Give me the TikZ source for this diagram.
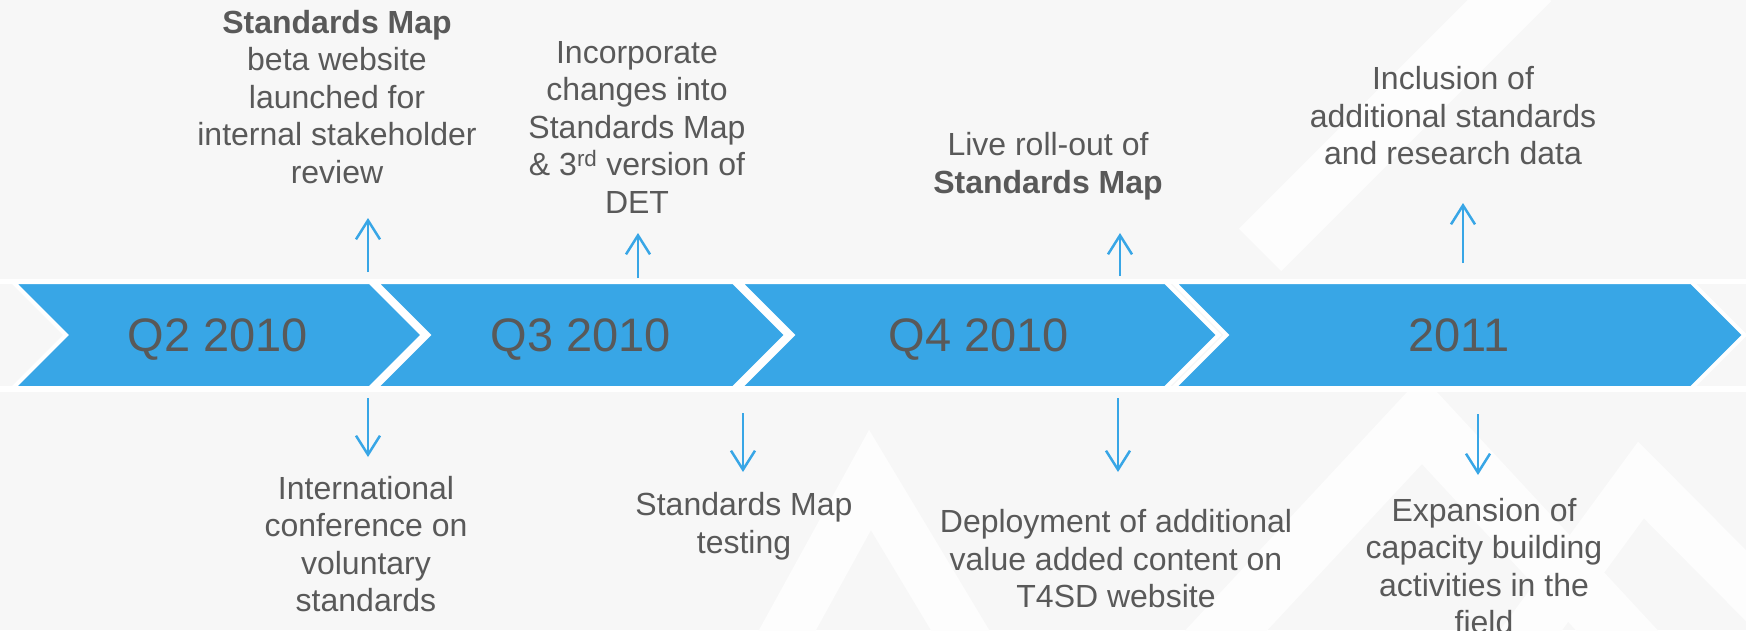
\documentclass[tikz,border=0pt]{standalone}
\usepackage{fontspec}
\setmainfont{Liberation Sans}
\usetikzlibrary{shapes.symbols,arrows.meta}

\definecolor{tlblue}{HTML}{38A6E6}
\definecolor{tltext}{HTML}{595959}
\definecolor{tlback}{HTML}{F7F7F7}
\definecolor{tlshade}{HTML}{FDFDFD}

\tikzset{
  phase/.style={signal, signal from=west, signal to=east, fill=tlblue,
    draw=white, line width=4pt, minimum height=106pt, inner sep=0pt,
    text height=34pt, text depth=2pt,
    text=tltext, font=\fontsize{47}{56}\selectfont},
  note/.style={align=center, text=tltext, font=\fontsize{32}{37.5}\selectfont},
  tick/.style={tlblue, line width=2.5pt, -{Straight Barb[length=19pt,width=24pt]}}
}

\begin{document}
\begin{tikzpicture}[x=1pt,y=-1pt]
    \useasboundingbox (0,0) rectangle (1746,630);
    % faint background pattern
    \begin{scope}
        \clip (0,0) rectangle (1746,630);
        \fill[tlback] (0,0) rectangle (1746,630);
        \draw[tlshade, line width=60pt] (1180,680) -- (1422,420) -- (1700,720);
        \draw[tlshade, line width=60pt] (1260,250) -- (1530,-20);
        \draw[tlshade, line width=50pt] (1480,700) -- (1641,480) -- (1800,640);
        \draw[tlshade, line width=50pt] (760,680) -- (870,480) -- (990,680);
        \fill[white] (0,279) rectangle (1746,284);
        \fill[white] (0,386) rectangle (1746,392);
    \end{scope}

    % timeline
    \node[phase, minimum width=410pt] (q2) at (218,335) {Q2 2010};
    \node[phase, minimum width=411pt] (q3) at (581,335) {Q3 2010};
    \node[phase, minimum width=479pt] (q4) at (979,335) {Q4 2010};
    \node[phase, minimum width=571pt] (y11) at (1459,335) {2011};

    % milestones above
    \node[note] (beta) at (337,97) {\textbf{Standards Map}\\beta website\\launched for\\internal stakeholder\\review};
    \node[note] (incorp) at (637,127) {Incorporate\\changes into\\Standards Map\\\& 3\textsuperscript{rd} version of\\DET};
    \node[note] (live) at (1048,166) {Live roll-out of\\\textbf{Standards Map}};
    \node[note] (incl) at (1453,116) {Inclusion of\\additional standards\\and research data};

    % milestones below
    \node[note] (conf) at (366,544) {International\\conference on\\voluntary\\standards};
    \node[note] (test) at (744,526) {Standards Map\\testing};
    \node[note] (deploy) at (1116,559) {Deployment of additional\\value added content on\\T4SD website};
    \node[note] (expand) at (1484,566) {Expansion of\\capacity building\\activities in the\\field};

    % arrow ends
    \coordinate (u1) at (368,272); \coordinate (u1t) at (368,218);
    \coordinate (d1) at (368,398); \coordinate (d1t) at (368,457);
    \coordinate (u2) at (638,278); \coordinate (u2t) at (638,233);
    \coordinate (d2) at (743,413); \coordinate (d2t) at (743,472);
    \coordinate (u3) at (1120,276); \coordinate (u3t) at (1120,233);
    \coordinate (d3) at (1118,398); \coordinate (d3t) at (1118,472);
    \coordinate (u4) at (1463,263); \coordinate (u4t) at (1463,203);
    \coordinate (d4) at (1478,414); \coordinate (d4t) at (1478,475);

    \foreach \a in {u1,d1,u2,d2,u3,d3,u4,d4}
        \draw[tick] (\a) -- (\a t);
\end{tikzpicture}
\end{document}
